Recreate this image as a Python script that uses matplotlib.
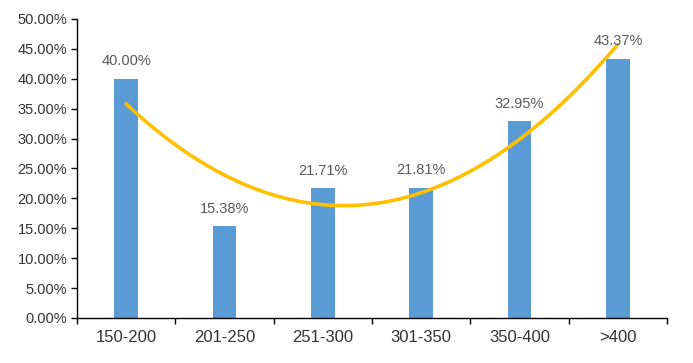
import numpy as np
import matplotlib
matplotlib.use("Agg")
import matplotlib.pyplot as plt
from matplotlib.ticker import FuncFormatter, FixedLocator

categories = ["150-200", "201-250", "251-300", "301-350", "350-400", ">400"]
values = [40.00, 15.38, 21.71, 21.81, 32.95, 43.37]
yticks = [0, 5, 10, 15, 20, 25, 30, 35, 40, 45, 50]

plt.rcParams['font.family'] = ['Liberation Sans', 'DejaVu Sans']

fig = plt.figure(figsize=(6.93, 3.63), dpi=100)
ax = fig.add_axes([0.111, 0.124, 0.8515, 0.8237])

x = np.arange(len(categories))
ax.bar(x, values, width=0.24, color="#5B9BD5", zorder=2)

# 2nd order polynomial trendline
coef = np.polyfit(x, values, 2)
xs = np.linspace(x[0], x[-1], 200)
ax.plot(xs, np.polyval(coef, xs), color="#FFC000", lw=2.6, zorder=3,
        solid_capstyle='round')

for xi, v in zip(x, values):
    ax.annotate(f"{v:.2f}%", (xi, v), xytext=(0, 7.5), textcoords="offset points",
                ha="center", va="bottom", fontsize=10.5, color="#595959", zorder=4)

ax.set_xlim(-0.5, len(categories) - 0.5)
ax.set_ylim(0, 50)
ax.set_yticks(yticks)
ax.yaxis.set_major_formatter(FuncFormatter(lambda v, p: f"{v:.2f}%"))
ax.set_xticks(x)
ax.set_xticklabels(categories)
ax.xaxis.set_minor_locator(FixedLocator(np.arange(-0.5, len(categories), 1.0)))
ax.tick_params(axis='x', which='major', length=0, pad=9, labelsize=12, labelcolor="#333333")
ax.tick_params(axis='x', which='minor', length=4, width=1, color="black", direction='out')
ax.tick_params(axis='y', length=4, width=1, labelsize=10.5, labelcolor="#333333", pad=3)

for s in ["top", "right"]:
    ax.spines[s].set_visible(False)
for s in ["left", "bottom"]:
    ax.spines[s].set_color("black")
    ax.spines[s].set_linewidth(1)

fig.savefig("out.png", dpi=100)
